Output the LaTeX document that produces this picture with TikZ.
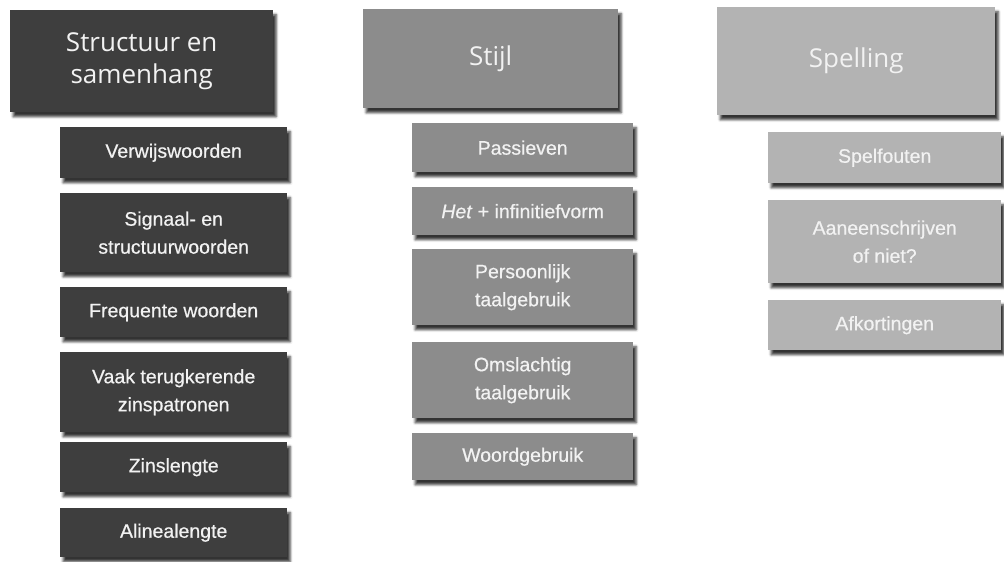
\documentclass[tikz,border=0pt]{standalone}
\usepackage{fontspec}
\setmainfont{Liberation Sans}
\newfontfamily\subfont[FakeBold=0.6]{Liberation Sans}
\newfontfamily\headfont{Open Sans}
\usetikzlibrary{shadows.blur}
\definecolor{cdark}{HTML}{3E3E3E}
\definecolor{cmid}{HTML}{8C8C8C}
\definecolor{clight}{HTML}{B3B3B3}
\definecolor{ctext}{HTML}{F2F2F2}
\begin{document}
\begin{tikzpicture}[x=1pt,y=1pt,
  box/.style={anchor=north west, inner sep=0pt, align=center, text=ctext,
    blur shadow={shadow xshift=3pt, shadow yshift=-4.5pt, shadow blur radius=2.5pt, shadow opacity=80}},
  headbox/.style={box, font=\headfont\fontsize{26}{32}\selectfont},
  subbox/.style={box, font=\subfont\fontsize{19.5}{28}\selectfont},
  c1/.style={fill=cdark}, c2/.style={fill=cmid}, c3/.style={fill=clight}]
\useasboundingbox (0,0) rectangle (1004,-562);
% column 1
\node[headbox,c1,minimum width=263pt,minimum height=102pt] (h1) at (10,-10) {Structuur en\\samenhang};
\node[subbox,c1,minimum width=227pt,minimum height=51pt] (a1) at (60,-127) {Verwijswoorden};
\node[subbox,c1,minimum width=227pt,minimum height=79pt] (a2) at (60,-193) {Signaal- en\\structuurwoorden};
\node[subbox,c1,minimum width=227pt,minimum height=50pt] (a3) at (60,-287) {Frequente woorden};
\node[subbox,c1,minimum width=227pt,minimum height=80pt] (a4) at (60,-352) {Vaak terugkerende\\zinspatronen};
\node[subbox,c1,minimum width=227pt,minimum height=50pt] (a5) at (60,-442) {Zinslengte};
\node[subbox,c1,minimum width=227pt,minimum height=49pt] (a6) at (60,-508) {Alinealengte};
% column 2
\node[headbox,c2,minimum width=255pt,minimum height=99pt] (h2) at (363,-9) {Stijl};
\node[subbox,c2,minimum width=221pt,minimum height=49pt] (b1) at (412,-123) {Passieven};
\node[subbox,c2,minimum width=221pt,minimum height=48pt] (b2) at (412,-187) {\textit{Het} + infinitiefvorm};
\node[subbox,c2,minimum width=221pt,minimum height=76pt] (b3) at (412,-249) {Persoonlijk\\taalgebruik};
\node[subbox,c2,minimum width=221pt,minimum height=76pt] (b4) at (412,-342) {Omslachtig\\taalgebruik};
\node[subbox,c2,minimum width=221pt,minimum height=47pt] (b5) at (412,-433) {Woordgebruik};
% column 3
\node[headbox,c3,minimum width=278pt,minimum height=108pt] (h3) at (717,-7) {Spelling};
\node[subbox,c3,minimum width=233pt,minimum height=51pt] (d1) at (768,-132) {Spelfouten};
\node[subbox,c3,minimum width=233pt,minimum height=83pt] (d2) at (768,-200) {Aaneenschrijven\\of niet?};
\node[subbox,c3,minimum width=233pt,minimum height=50pt] (d3) at (768,-300) {Afkortingen};
\end{tikzpicture}
\end{document}
